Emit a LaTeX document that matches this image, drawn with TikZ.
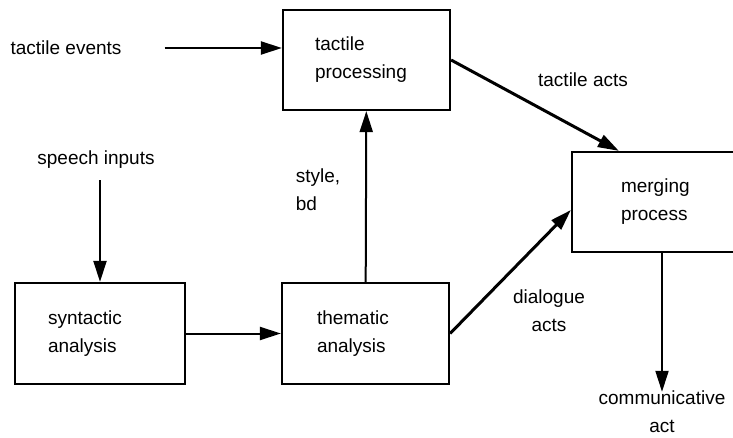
\documentclass[tikz,border=0pt]{standalone}
\usepackage{fontspec}
\setmainfont{Liberation Sans}
\usetikzlibrary{arrows.meta, positioning}
\tikzset{
  box/.style   = {draw, line width=2.2pt, minimum height=100pt, align=left,
                  inner sep=0pt, font=\fontsize{19}{28}\selectfont},
  arrow/.style = {-{Triangle[length=21pt, width=13pt]}, line width=2pt},
}

\begin{document}
\begin{tikzpicture}[
    x=1pt, y=-1pt,
    lbl/.style={align=center, inner sep=1pt, font=\fontsize{19}{28}\selectfont},
    heavy/.style={line width=3pt}
]
\clip (0,0) rectangle (733,438);

% processing boxes
\node[box, minimum width=167pt, text width=103pt] (tproc) at (366.5,60) {tactile\\processing};
\node[box, minimum width=170pt, minimum height=101pt, text width=104pt] (synt) at (100,333.5) {syntactic\\analysis};
\node[box, minimum width=167pt, minimum height=101pt, text width=97pt] (them) at (365.5,333.5) {thematic\\analysis};
\node[box, minimum width=173pt, text width=75pt] (merge) at (658.5,202) {merging\\process};

% inputs and outputs
\node[lbl] (tevents) at (66,48) {tactile events};
\node[lbl] (sinputs) at (96,160) {speech inputs};
\node[lbl] (commact) at (662,412) {communicative\\act};

% edge labels
\node[lbl, align=left] (stylebd) at (318,190) {style,\\bd};
\node[lbl] (tacts) at (583,80) {tactile acts};
\node[lbl] (dacts) at (549,311) {dialogue\\acts};

% connections
\draw[arrow, shorten <=42pt] (tevents.east) -- (tevents.east -| tproc.west);
\draw[arrow, shorten <=10pt] (sinputs.south -| synt.north) -- (synt.north);
\draw[arrow] (synt) -- (them);
\draw[arrow] (them) -- (tproc);
\draw[arrow, heavy] (tproc.east) -- ([xshift=48pt]merge.north west);
\draw[arrow, heavy] (them.east) -- ([yshift=-8pt]merge.west);
\draw[arrow, shorten >=-2pt] (merge.south -| commact.north) -- (commact.north);

\end{tikzpicture}
\end{document}
